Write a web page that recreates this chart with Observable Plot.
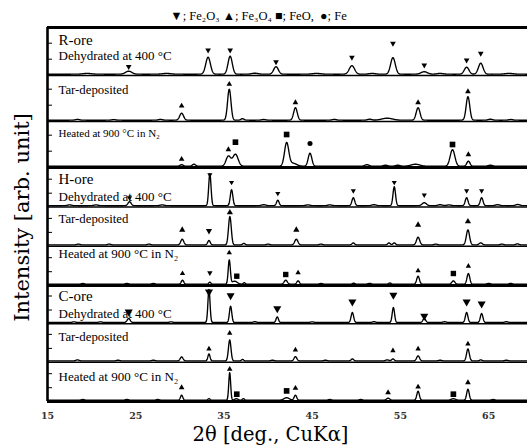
<!DOCTYPE html>
<html><head><meta charset="utf-8">
<script src="https://cdn.jsdelivr.net/npm/d3@7"></script>
<script src="https://cdn.jsdelivr.net/npm/@observablehq/plot@0.6"></script>
<style>body{margin:0;background:#fff;overflow:hidden}</style>
</head><body><div id="chart"></div>
<script>
// ---------- DATA ----------
// peaks: [2θ (deg), height (arb.), width (deg)]
const peaksRDehyd = [[24.2,3,0.3],[33.2,17,0.22],[35.7,18,0.2],[40.9,7.5,0.22],[49.5,8.5,0.25],[54.15,16.5,0.22],[57.7,2.5,0.3],[62.5,7,0.22],[64.1,11,0.22],
  [19.5,0.8,0.4],[28.5,0.8,0.4],[38.5,1,0.3],[45.5,0.8,0.4],[51.8,0.8,0.3],[59.5,0.8,0.3],[67.3,0.8,0.4]];
const peaksRTar = [[30.2,7,0.18],[35.6,31,0.16],[37.1,1.5,0.15],[43.1,12.5,0.17],[53.5,2,0.5],[57.0,12.5,0.18],[62.65,23.5,0.17],
  [18.4,0.8,0.2],[22.5,0.6,0.2],[27.8,0.8,0.2],[39.5,0.7,0.2],[47.5,0.8,0.2],[51.5,1,0.2],[65.2,1,0.2],[67.5,0.7,0.2]];
const peaksRHeat = [[30.2,1.5,0.15],[31.6,2,0.15],[35.5,10,0.22],[36.3,12,0.25],[42.1,23,0.2],[42.8,3,0.35],[44.75,13,0.17],[51.2,1.5,0.2],[53.3,1,0.2],[54.7,1,0.2],[56.7,2,0.4],[60.9,16.5,0.22],[62.7,5,0.15],[65.2,1,0.2]];
const peaksHDehyd = [[24.3,4,0.15],[33.4,32,0.11],[35.86,16,0.12],[41.1,5.5,0.12],[49.66,8,0.13],[54.3,19,0.12],[57.7,3,0.2],[62.5,8,0.13],[64.2,8,0.13],
  [17.5,0.8,0.2],[20.5,0.8,0.2],[28,0.8,0.2],[39.5,1,0.2],[44.5,0.8,0.2],[47,0.8,0.2],[52,1,0.2],[59.5,1,0.2],[60.5,0.8,0.2],[66,1,0.2],[68.3,1.2,0.2]];
const peaksHTar = [[30.27,5.7,0.14],[33.3,4.4,0.12],[35.67,28.4,0.13],[37.25,1.5,0.12],[43.2,5.7,0.15],[49.66,2,0.12],[53.7,2,0.12],[54.3,2,0.12],[57.0,7.7,0.15],[62.65,15,0.15],[64.1,2,0.15],[68.25,1,0.15],
  [18.5,0.8,0.15],[22,0.8,0.15],[26.5,0.8,0.15],[40,0.8,0.15],[46,0.8,0.15],[59,0.8,0.15],[66.5,0.8,0.15]];
const peaksHHeat = [[30.3,4,0.12],[33.4,2,0.1],[35.6,24,0.1],[36.2,3,0.25],[37.3,1.5,0.1],[42.0,4,0.15],[43.4,3.4,0.12],[49.7,1,0.12],[53.8,1.2,0.12],[57.0,8,0.13],[61.0,3.4,0.14],[62.7,10.7,0.13],
  [19,0.7,0.15],[24,0.7,0.15],[27,0.7,0.15],[46,0.7,0.15],[51.5,0.8,0.15],[65,0.8,0.15],[67.5,0.8,0.15]];
const peaksCDehyd = [[24.2,4,0.14],[33.3,33,0.1],[35.75,16.3,0.11],[41.04,5.6,0.11],[49.55,10,0.12],[54.2,15,0.11],[57.7,4,0.13],[62.5,10,0.12],[64.2,9,0.12],
  [18,0.7,0.15],[21,0.7,0.15],[29,0.7,0.15],[38.5,0.8,0.15],[45,0.7,0.15],[52,0.8,0.15],[60,0.8,0.15],[67,0.8,0.15]];
const peaksCTar = [[18.4,1,0.15],[30.2,4,0.13],[33.3,7,0.1],[35.65,21,0.12],[37.1,1.5,0.1],[43.1,4.3,0.13],[49.55,2,0.12],[53.5,1,0.15],[54.15,2,0.12],[57.0,5,0.14],[62.65,12,0.13],[64.1,1,0.12],
  [23,0.7,0.15],[27,0.7,0.15],[40.5,0.7,0.15],[46.5,0.7,0.15],[59.5,0.7,0.15],[67,0.7,0.15]];
const peaksCHeat = [[30.2,5,0.11],[33.3,1.5,0.1],[35.65,27.6,0.09],[36.4,1.5,0.15],[37.2,1.5,0.1],[42.1,2.5,0.25],[43.1,5,0.12],[53.6,2,0.15],[57.0,9,0.12],[61.0,1.5,0.2],[62.65,11,0.12],
  [19,0.7,0.15],[24,0.7,0.15],[27.5,0.7,0.15],[47,0.7,0.15],[50.5,0.7,0.15],[65.5,0.7,0.15]];

// markers: [2θ (deg), level (arb.), phase]  h=Fe2O3  m=Fe3O4  w=FeO  f=Fe
const marksRDehyd = [[24.2,7.5,"h"],[33.2,24,"h"],[35.7,24,"h"],[40.9,12.3,"h"],[49.5,16.7,"h"],[54.15,30.7,"h"],[57.7,9,"h"],[62.5,14,"h"],[64.1,20.7,"h"]];
const marksRTar = [[30.2,14.3,"m"],[35.6,36,"m"],[43.1,17.6,"m"],[57.0,17.6,"m"],[62.65,28.6,"m"]];
const marksRHeat = [[30.2,7,"m"],[35.5,16.7,"m"],[62.7,11.7,"m"],[36.3,24,"w"],[42.1,31.7,"w"],[60.9,21.7,"w"],[44.75,22.7,"f"]];
const marksHDehyd = [[24.3,8,"h"],[33.4,31,"h"],[35.86,23.3,"h"],[41.1,12.3,"h"],[49.66,15,"h"],[54.3,23.3,"h"],[57.7,10.6,"h"],[62.5,15,"h"],[64.2,15,"h"]];
const marksHTar = [[30.27,15,"m"],[35.67,32.4,"m"],[43.2,15,"m"],[57.0,20,"m"],[62.65,23.4,"m"],[33.3,14,"h"]];
const marksHHeat = [[30.3,10.7,"m"],[35.6,31.4,"m"],[43.4,11.4,"m"],[57.0,13.4,"m"],[62.7,18,"m"],[33.4,11.4,"h"],[36.45,8,"w"],[42.0,9.7,"w"],[61.0,10.7,"w"]];
const marksCDehyd = [[24.2,10.6,"h"],[33.3,30.6,"h"],[35.75,27,"h"],[41.04,14,"h"],[49.55,20.6,"h"],[54.2,27.3,"h"],[57.7,6.3,"h"],[62.5,20.6,"h"],[64.2,18.7,"h"]];
const marksCTar = [[33.3,12,"m"],[35.65,27.7,"m"],[43.1,11,"m"],[54.15,10.3,"m"],[57.0,12,"m"],[62.65,17,"m"]];
const marksCHeat = [[30.2,12.6,"m"],[35.65,31,"m"],[43.1,12,"m"],[53.6,7.6,"m"],[57.0,13.3,"m"],[62.65,17.6,"m"],[36.45,6,"w"],[42.1,9.3,"w"],[61.0,6,"w"]];

const oreNames = ["R-ore","H-ore","C-ore"];
const conditions = ["Dehydrated at 400 °C","Tar-deposited","Heated at 900 °C in N₂"];
const xTicks = [15,25,35,45,55,65];
const legendText = "▼; Fe₂O₃ ▲; Fe₃O₄ ■; FeO,  ●; Fe";
const xTitle = "2θ [deg., CuKα]";
const yTitle = "Intensity [arb. unit]";

const panelPeaks = [peaksRDehyd,peaksRTar,peaksRHeat,peaksHDehyd,peaksHTar,peaksHHeat,peaksCDehyd,peaksCTar,peaksCHeat];
const panelMarks = [marksRDehyd,marksRTar,marksRHeat,marksHDehyd,marksHTar,marksHHeat,marksCDehyd,marksCTar,marksCHeat];

// ---------- LAYOUT ----------
const W = 527, H = 448, TOP = 27, BOTTOM = 401;
const edges = [27, 75, 121, 167, 206.5, 245.7, 285, 323.3, 361.7, 401]; // pixel rows
const thickIdx = [0, 3, 6, 9];
const val = px => BOTTOM - px;            // pixel row -> y value
const base = edges.slice(1).map(b => val(b - 1.3));
const broaden = 1.2;                      // drawing width of the peak outline
const markSize = [2.1,2.1,2.1,1.9,2.3,2.0,3.0,2.0,2.1];
const tickLevels = [[15,31],[15,31],[15,31],[12.5,26.5],[12.5,26.5],[12.5,26.5],[12.5,26.5],[12.5,26.5],[12.5,26.5]];
const labelOff = [[13,28.7],[14.3],[12.3],[12,29],[11.5],[8],[11,28],[12.7],[15]];
const condSize = [13,12.8,11,13,12.8,13,13,12.8,13];

// curves
const xs = d3.range(15, 69.41, 0.03);
const curves = [];
panelPeaks.forEach((pk, i) => {
  xs.forEach(x => {
    let y = 0;
    for (const [p, h, s] of pk) y += h * Math.exp(-0.5 * ((x - p) / (s * broaden)) ** 2);
    curves.push({panel: i, x, y: base[i] + y});
  });
});
const marks = [];
panelMarks.forEach((mk, i) => mk.forEach(([x, lv, ph]) => {
  const f = ph === "w" ? 1.52 : ph === "f" ? 1.2 : 1;
  marks.push({panel: i, x, y: base[i] + lv, phase: ph, r: markSize[i] * f});
}));
const ticks = [];
tickLevels.forEach((lv, i) => lv.forEach(l => ticks.push({y: base[i] + l})));
const labels = [];
for (let g = 0; g < 3; g++) {
  const p0 = g * 3;
  labels.push({t: oreNames[g], y: val(edges[p0] + labelOff[p0][0]), s: 15});
  for (let c = 0; c < 3; c++) {
    const p = p0 + c;
    const off = c === 0 ? labelOff[p][1] : labelOff[p][0];
    labels.push({t: conditions[c], y: val(edges[p] + off), s: condSize[p]});
  }
}
const thin = edges.filter((e, i) => !thickIdx.includes(i)).map(val);
const thick = thickIdx.map(i => val(edges[i]));

const chart = Plot.plot({
  width: W, height: H,
  marginTop: TOP, marginBottom: H - BOTTOM, marginLeft: 47, marginRight: 0,
  style: {fontFamily: "Liberation Serif", background: "white", color: "black"},
  x: {domain: [15, 69.4], label: null},
  y: {domain: [0, BOTTOM - TOP], axis: null},
  r: {type: "identity"},
  marks: [
    Plot.line(curves, {x: "x", y: "y", z: "panel", stroke: "black", strokeWidth: 1.35}),
    Plot.ruleY(thin, {stroke: "black", strokeWidth: 1.4}),
    Plot.ruleY(thick, {stroke: "black", strokeWidth: 3}),
    Plot.ruleX([15], {y1: 0, y2: BOTTOM - TOP, stroke: "black", strokeWidth: 2.6}),
    Plot.ruleY(ticks, {y: "y", x1: 15, x2: 15, insetRight: -5, stroke: "black", strokeWidth: 1}),
    Plot.dot(marks.filter(d => d.phase === "h"), {x: "x", y: "y", r: "r", symbol: "triangle", rotate: 180, fill: "black", stroke: "none"}),
    Plot.dot(marks.filter(d => d.phase === "m"), {x: "x", y: "y", r: "r", symbol: "triangle", fill: "black", stroke: "none"}),
    Plot.dot(marks.filter(d => d.phase === "w"), {x: "x", y: "y", r: "r", symbol: "square", fill: "black", stroke: "none"}),
    Plot.dot(marks.filter(d => d.phase === "f"), {x: "x", y: "y", r: "r", symbol: "circle", fill: "black", stroke: "none"}),
    Plot.text(labels, {x: 15, y: "y", text: "t", fontSize: "s", dx: 11, textAnchor: "start", fill: "black"}),
    Plot.axisX(xTicks, {tickSize: 0, tickPadding: 11, fontFamily: "DejaVu Serif", fontSize: 9.5, fontWeight: "bold", fill: "#333", label: null}),
    Plot.text([xTitle], {text: d => d, frameAnchor: "bottom", textAnchor: "middle", lineAnchor: "middle", dx: -17, dy: 33, fontFamily: "DejaVu Serif", fontSize: 19.5, fill: "black"}),
    Plot.text([yTitle], {text: d => d, frameAnchor: "left", textAnchor: "middle", lineAnchor: "middle", rotate: -90, dx: -25, dy: 3, fontFamily: "DejaVu Serif", fontSize: 21, fill: "black"}),
    Plot.text([legendText], {text: d => d, frameAnchor: "top", textAnchor: "middle", lineAnchor: "middle", dx: -29, dy: -12, fontSize: 12.5, fill: "black"})
  ]
});
document.getElementById("chart").appendChild(chart);
</script>
</body></html>
